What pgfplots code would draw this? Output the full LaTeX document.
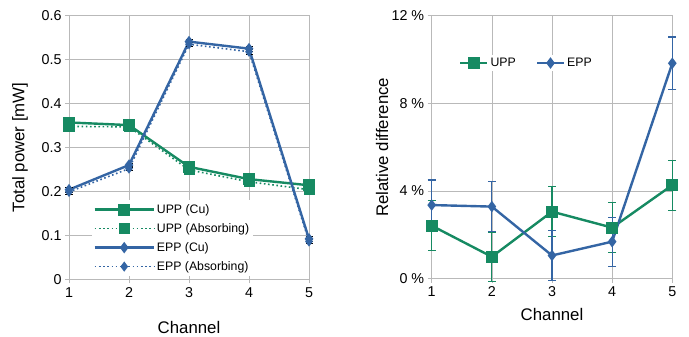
\documentclass[border=0pt]{standalone}
\usepackage{fontspec}
\setmainfont{Liberation Sans}
\usepackage{pgfplots}
\pgfplotsset{compat=1.18}
\definecolor{upp}{RGB}{22,138,98}
\definecolor{epp}{RGB}{52,101,164}
\definecolor{gridc}{RGB}{185,185,185}
\pgfplotsset{
  common/.style={
    scale only axis,
    xmin=1, xmax=5,
    xtick={1,2,3,4,5},
    grid=major,
    major grid style={draw=gridc, line width=0.7bp},
    axis line style={draw=gridc, line width=0.7bp},
    tick style={draw=gridc, line width=0.7bp},
    tick align=outside,
    major tick length=4bp,
    xtick pos=bottom, ytick pos=left,
    /pgf/number format/assume math mode=true,
    every tick label/.append style={font=\fontsize{14.3bp}{16bp}\selectfont, text=black},
    every axis label/.append style={font=\fontsize{16.8bp}{19bp}\selectfont},
    clip=false,
  },
  dots/.style={dash pattern=on 1.6bp off 2.6bp},
}
\begin{document}
\begin{tikzpicture}
\useasboundingbox (0,0) rectangle (689bp,337bp);
% ---------- left axis ----------
\begin{axis}[common,
  at={(69bp,57.7bp)}, anchor=south west,
  width=240bp, height=263.6bp,
  ymin=0, ymax=0.6,
  ytick={0,0.1,0.2,0.3,0.4,0.5,0.6},
  yticklabel style={/pgf/number format/fixed, /pgf/number format/precision=1},
  xticklabel style={yshift=-1bp},
  xlabel={Channel}, ylabel={Total power [mW]},
  xlabel style={at={(axis description cs:0.5,-0.182)}, anchor=center},
  ylabel style={at={(axis description cs:-0.204,0.5)}, anchor=center, rotate=0},
  legend style={at={(axis description cs:0.093,0.30)}, anchor=north west,
    draw=none, fill=white, inner sep=2bp,
    font=\fontsize{12.3bp}{13bp}\selectfont, row sep=4.6bp},
  legend cell align=left,
  legend image code/.code={%
    \draw[mark repeat=2, mark phase=2] plot coordinates {(0bp,0bp) (29.5bp,0bp) (59bp,0bp)};},
  error bars/error bar style={black, line width=0.6bp, solid},
  error bars/error mark options={rotate=90, mark size=3.5bp, black, line width=0.6bp},
]
\addplot[color=upp, line width=2.4bp, mark=square*, mark size=4.7bp,
  error bars/.cd, y dir=both, y explicit]
  coordinates {(1,0.357)+-(0,0.005) (2,0.351)+-(0,0.005) (3,0.256)+-(0,0.005) (4,0.228)+-(0,0.005) (5,0.214)+-(0,0.005)};
\addlegendentry{UPP (Cu)}
\addplot[color=upp, line width=1.6bp, dots, mark=square*, mark size=4.7bp, mark options={solid},
  error bars/.cd, y dir=both, y explicit]
  coordinates {(1,0.348)+-(0,0.005) (2,0.347)+-(0,0.005) (3,0.249)+-(0,0.005) (4,0.222)+-(0,0.005) (5,0.204)+-(0,0.005)};
\addlegendentry{UPP (Absorbing)}
\addplot[color=epp, line width=2.4bp, mark=diamond*, mark size=3.8bp,
  error bars/.cd, y dir=both, y explicit]
  coordinates {(1,0.204)+-(0,0.005) (2,0.260)+-(0,0.005) (3,0.541)+-(0,0.005) (4,0.525)+-(0,0.005) (5,0.092)+-(0,0.005)};
\addlegendentry{EPP (Cu)}
\addplot[color=epp, line width=1.6bp, dots, mark=diamond*, mark size=3.8bp, mark options={solid},
  error bars/.cd, y dir=both, y explicit]
  coordinates {(1,0.199)+-(0,0.005) (2,0.252)+-(0,0.005) (3,0.535)+-(0,0.005) (4,0.518)+-(0,0.005) (5,0.086)+-(0,0.005)};
\addlegendentry{EPP (Absorbing)}
\end{axis}
% ---------- right axis ----------
\begin{axis}[common,
  at={(431.7bp,58.3bp)}, anchor=south west,
  width=240.6bp, height=263bp,
  ymin=0, ymax=12,
  ytick={0,4,8,12},
  yticklabels={0 \%,4 \%,8 \%,12 \%},
  xlabel={Channel}, ylabel={Relative difference},
  xlabel style={at={(axis description cs:0.5,-0.138)}, anchor=center},
  ylabel style={at={(axis description cs:-0.2066,0.5)}, anchor=center, rotate=0},
  legend style={at={(axis description cs:0.109,0.82)}, anchor=west,
    draw=none, fill=white, inner sep=1bp,
    font=\fontsize{12.3bp}{13bp}\selectfont,
    /tikz/every even column/.append style={column sep=18bp}},
  legend columns=2,
  legend image code/.code={%
    \draw[mark repeat=2, mark phase=2] plot coordinates {(0bp,0bp) (13.5bp,0bp) (27bp,0bp)};},
]
\addplot[color=upp, line width=2.4bp, mark=square*, mark size=4.7bp,
  error bars/.cd, y dir=both, y explicit,
  error bar style={upp, line width=1.2bp, solid},
  error mark options={rotate=90, mark size=4bp, upp, line width=1.2bp}]
  coordinates {(1,2.42)+-(0,1.13) (2,1.00)+-(0,1.13) (3,3.06)+-(0,1.13) (4,2.33)+-(0,1.13) (5,4.27)+-(0,1.14)};
\addlegendentry{UPP}
\addplot[color=epp, line width=2.4bp, mark=diamond*, mark size=3.8bp,
  error bars/.cd, y dir=both, y explicit,
  error bar style={epp, line width=1.2bp, solid},
  error mark options={rotate=90, mark size=4bp, epp, line width=1.2bp}]
  coordinates {(1,3.36)+-(0,1.14) (2,3.29)+-(0,1.13) (3,1.06)+-(0,1.14) (4,1.69)+-(0,1.12) (5,9.83)+-(0,1.2)};
\addlegendentry{EPP}
\end{axis}
\end{tikzpicture}
\end{document}
